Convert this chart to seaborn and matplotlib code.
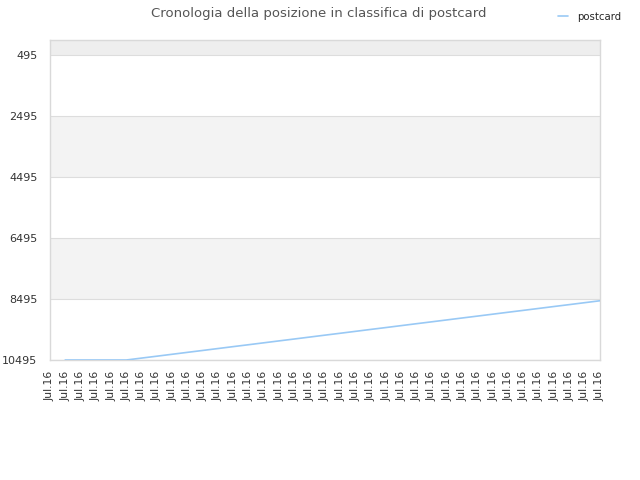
import matplotlib
matplotlib.use("Agg")
import matplotlib.pyplot as plt
import numpy as np
import pandas as pd
import seaborn as sns

# x labels (one per tick) and the rank series (None = no data yet)
x_labels = ["Jul.16"] * 37
rank_postcard = [None,
                 10495, 10495, 10495, 10495, 10495,
                 10432, 10370, 10307, 10244, 10182, 10119, 10056, 9994,
                 9931, 9868, 9806, 9743, 9680, 9618, 9555, 9492, 9430,
                 9367, 9304, 9242, 9179, 9116, 9054, 8991, 8928, 8866,
                 8803, 8740, 8678, 8615, 8552]
y_ticks = [495, 2495, 4495, 6495, 8495, 10495]
series_name = "postcard"

sns.set_theme(style="white")
plt.rcParams["font.family"] = ["DejaVu Sans"]

df = pd.DataFrame({"pos": np.arange(len(x_labels)),
                   "rank": pd.array(rank_postcard, dtype="Float64")})
df = df.dropna()

fig = plt.figure(figsize=(6.4, 4.8), dpi=100)
ax = fig.add_axes([0.078, 0.25, 0.8595, 0.6667])

# alternating bands
bands = [0] + y_ticks
for i in range(len(bands) - 1):
    if i == 0:
        col = "#eeeeee"
    elif i % 2 == 0:
        col = "#f3f3f3"
    else:
        col = "#ffffff"
    ax.axhspan(bands[i], bands[i + 1], color=col, zorder=0, lw=0)
for t in y_ticks:
    ax.axhline(t, color="#dddddd", lw=0.8, zorder=1)

sns.lineplot(data=df, x="pos", y="rank", ax=ax, color="#99c9f5",
             linewidth=1.2, label=series_name, legend=False, zorder=3)

ax.set_ylim(10495, 0)
ax.set_xlim(0, len(x_labels) - 1)
ax.set_yticks(y_ticks)
ax.set_yticklabels([str(t) for t in y_ticks], fontsize=8, color="#333333")
ax.set_xticks(np.arange(len(x_labels)))
ax.set_xticklabels(x_labels, rotation=90, fontsize=7.8, color="#333333")
ax.tick_params(axis="y", length=0, pad=9)
ax.tick_params(axis="x", length=0, pad=8)
ax.set_xlabel("")
ax.set_ylabel("")
for s in ax.spines.values():
    s.set_color("#d9d9d9")
    s.set_linewidth(1)

fig.suptitle("Cronologia della posizione in classifica di postcard",
             x=0.498, y=0.985, fontsize=9.5, color="#555555")

handles, labels = ax.get_legend_handles_labels()
fig.legend(handles, labels, loc="upper right", bbox_to_anchor=(0.985, 0.995),
           frameon=False, fontsize=7.3, handlelength=1.0, handletextpad=0.9)

plt.savefig("out.png", dpi=100)
